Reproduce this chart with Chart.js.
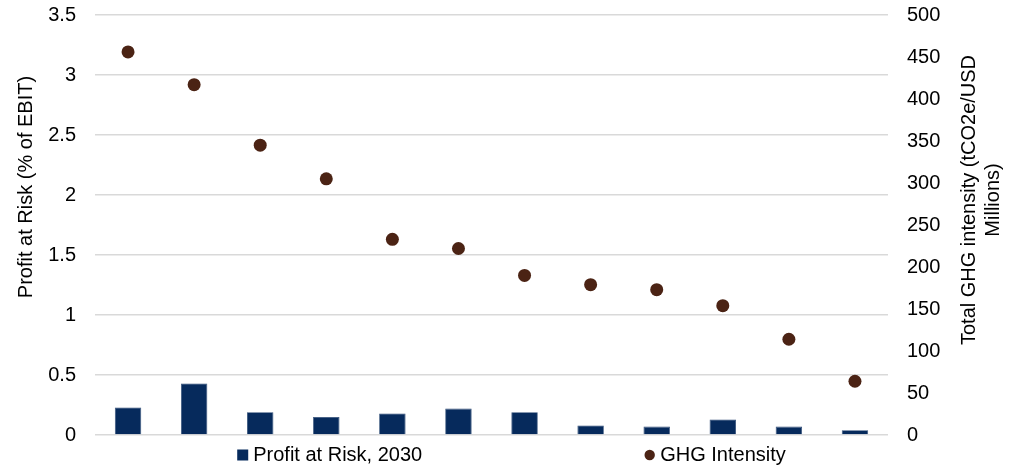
<!DOCTYPE html>
<html><head><meta charset="utf-8">
<script src="https://cdn.jsdelivr.net/npm/chart.js@4/dist/chart.umd.min.js"></script>
<style>html,body{margin:0;padding:0;background:#fff}#wrap{width:1017px;height:470px;position:relative}</style>
</head><body><div id="wrap"><canvas id="c"></canvas></div>
<script>
const categories = ['1','2','3','4','5','6','7','8','9','10','11','12'];
const profitAtRisk = [0.23,0.43,0.19,0.15,0.18,0.22,0.19,0.08,0.07,0.13,0.07,0.04];
const ghgIntensity = [456,417,345,305,233,222,190,179,173,154,114,64];
const seriesNames = ['Profit at Risk, 2030','GHG Intensity'];
const leftTitle = 'Profit at Risk (% of EBIT)';
const rightTitle = ['Total GHG intensity (tCO2e/USD','Millions)'];

const FONT = '"Liberation Sans", Arial, sans-serif';
const BAR = '#062A5C';
const DOT = '#4B2314';

const titlesAndLegend = {
  id:'titlesAndLegend',
  afterDraw(chart){
    const ctx = chart.ctx;
    ctx.save();
    ctx.fillStyle = '#000';
    ctx.font = '20px ' + FONT;
    ctx.textAlign = 'center';
    ctx.textBaseline = 'middle';
    ctx.save(); ctx.translate(26,187); ctx.rotate(-Math.PI/2);
    ctx.fillText(leftTitle,0,0); ctx.restore();
    ctx.save(); ctx.translate(969,200); ctx.rotate(-Math.PI/2);
    rightTitle.forEach((t,i)=>ctx.fillText(t,0,i*24)); ctx.restore();
    ctx.textAlign = 'left';
    const w1 = ctx.measureText(seriesNames[0]).width;
    const w2 = ctx.measureText(seriesNames[1]).width;
    const mk = 11, gapT = 5, gap = 222;
    const total = mk+gapT+w1+gap+mk+gapT+w2;
    let x = 511.5 - total/2;
    const y = 455;
    ctx.fillStyle = BAR; ctx.fillRect(x, y-5.5, mk, mk);
    ctx.fillStyle = '#000'; ctx.fillText(seriesNames[0], x+mk+gapT, y);
    x += mk+gapT+w1+gap;
    ctx.fillStyle = DOT; ctx.beginPath(); ctx.arc(x+5.5,y,5.2,0,Math.PI*2); ctx.fill();
    ctx.fillStyle = '#000'; ctx.fillText(seriesNames[1], x+mk+gapT, y);
    ctx.restore();
  }
};

function fitY(width){
  return function(s){ s.width = width; s.paddingTop = 0; s.paddingBottom = 0; };
}

new Chart(document.getElementById('c'), {
  data:{
    labels: categories,
    datasets:[
      {type:'line', label:seriesNames[1], data:ghgIntensity, yAxisID:'y2', showLine:false,
       pointRadius:6.5, pointHoverRadius:6.5, pointBackgroundColor:DOT, pointBorderWidth:0, borderColor:DOT, order:0},
      {type:'bar', label:seriesNames[0], data:profitAtRisk, yAxisID:'y', backgroundColor:BAR,
       borderColor:'#2C4A74', borderWidth:0.8, categoryPercentage:1, barPercentage:0.4, order:1}
    ]
  },
  options:{
    responsive:true, maintainAspectRatio:false, animation:false,
    layout:{padding:{top:15,bottom:35,left:0,right:0}},
    plugins:{legend:{display:false}, tooltip:{enabled:false}, title:{display:false}},
    scales:{
      x:{display:false, offset:true, grid:{display:false}},
      y:{position:'left', min:0, max:3.5,
         ticks:{stepSize:0.5, color:'#000', padding:19, font:{family:FONT,size:20},
                callback:v=>String(+(+v).toFixed(2))},
         grid:{color:'#D9D9D9', lineWidth:1.6, drawTicks:false},
         border:{display:false},
         afterFit: fitY(95)},
      y2:{position:'right', min:0, max:500,
         ticks:{stepSize:50, color:'#000', padding:19, font:{family:FONT,size:20}},
         grid:{display:false, drawTicks:false},
         border:{display:false},
         afterFit: fitY(129)}
    }
  },
  plugins:[titlesAndLegend]
});
</script>
</body></html>
